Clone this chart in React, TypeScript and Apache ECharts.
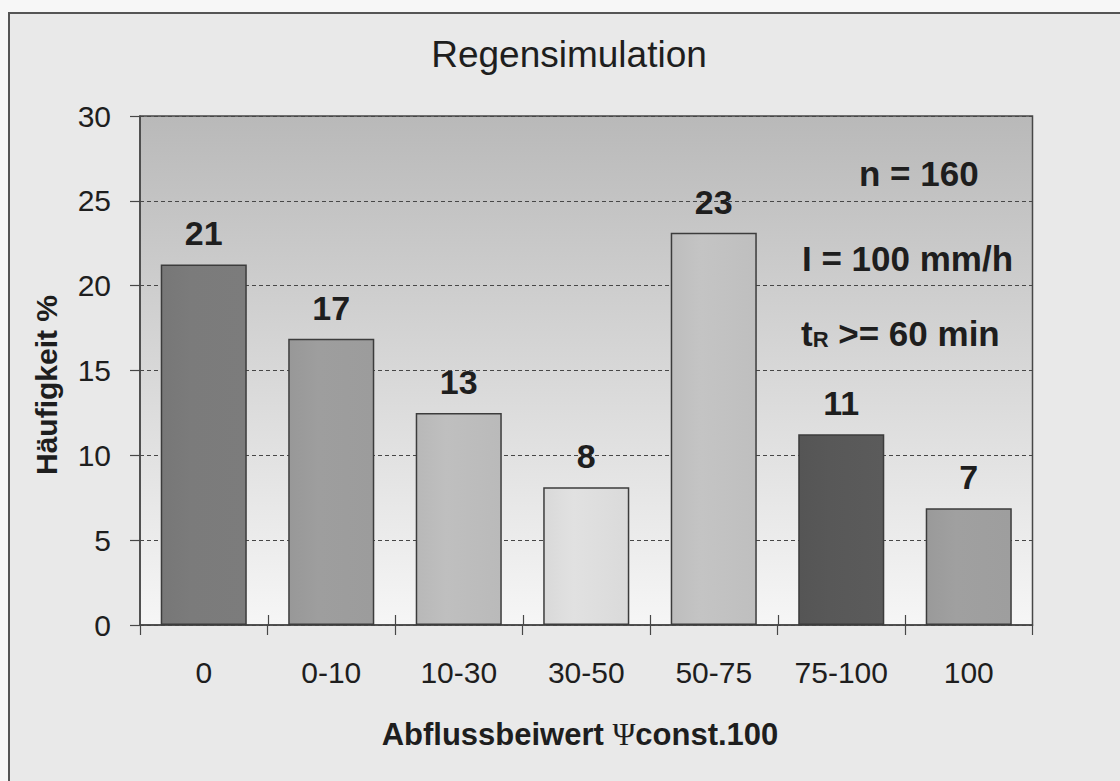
import React, { useEffect, useRef } from "react";
import * as echarts from "echarts";

const categories = ["0", "0-10", "10-30", "30-50", "50-75", "75-100", "100"];
const frequencies = [21.25, 16.875, 12.5, 8.125, 23.125, 11.25, 6.875];
const valueLabels = ["21", "17", "13", "8", "23", "11", "7"];
const barColors = ["#777777", "#989898", "#b8b8b8", "#d9d9d9", "#bdbdbd", "#555555", "#9a9a9a"];
const yMin = 0;
const yMax = 30;
const yInterval = 5;
const chartTitle = "Regensimulation";
const yAxisTitle = "Häufigkeit %";
const xAxisTitleParts = ["Abflussbeiwert ", "Ψ", "const.100"];
const noteN = "n = 160";
const noteI = "I = 100 mm/h";
const noteT = ["t", "R", " >= 60 min"];

const FONT = "'Liberation Sans', Arial, sans-serif";
const TXT = "#1e1e1e";
const LINE = "#474747";

export default function App() {
  const ref = useRef<HTMLDivElement>(null);

  useEffect(() => {
    if (!ref.current) return;
    const chart = echarts.init(ref.current, undefined, { renderer: "svg" });

    const shade = (c: string) =>
      new echarts.graphic.LinearGradient(0, 0, 1, 0, [
        { offset: 0, color: c },
        { offset: 0.35, color: echarts.color.lift(c, -0.04) },
        { offset: 1, color: echarts.color.lift(c, 0.04) },
      ]);

    const option: any = {
      animation: false,
      backgroundColor: "#f7f7f7",
      grid: {
        left: 140,
        top: 116,
        right: 87.5,
        bottom: 156,
        show: true,
        borderColor: LINE,
        borderWidth: 1.5,
        backgroundColor: new echarts.graphic.LinearGradient(0, 0, 0, 1, [
          { offset: 0, color: "#b9b9b9" },
          { offset: 1, color: "#f6f6f6" },
        ]),
      },
      xAxis: {
        type: "category",
        data: categories,
        position: "bottom",
        axisLine: { show: true, lineStyle: { color: LINE, width: 1.5 } },
        axisTick: { show: true, inside: false, length: 10, lineStyle: { color: LINE, width: 1.2 } },
        axisLabel: {
          margin: 32,
          fontSize: 30,
          fontFamily: FONT,
          color: TXT,
        },
        splitLine: { show: false },
      },
      yAxis: {
        type: "value",
        min: yMin,
        max: yMax,
        interval: yInterval,
        axisLine: { show: true, lineStyle: { color: LINE, width: 1.5 } },
        axisTick: { show: true, inside: false, length: 10, lineStyle: { color: LINE, width: 1.2 } },
        axisLabel: {
          margin: 29,
          fontSize: 30,
          fontFamily: FONT,
          color: TXT,
        },
        splitLine: {
          show: true,
          lineStyle: { color: LINE, type: [4, 3], width: 1 },
        },
      },
      series: [
        {
          type: "bar",
          barCategoryGap: "32.5%",
          z: 2,
          data: frequencies.map((v, i) => ({
            value: v,
            itemStyle: {
              color: shade(barColors[i]),
              borderColor: "#3c3c3c",
              borderWidth: 1.5,
            },
          })),
          label: {
            show: true,
            position: "top",
            distance: 14,
            formatter: (p: any) => valueLabels[p.dataIndex],
            fontSize: 34,
            fontWeight: "bold",
            fontFamily: FONT,
            color: TXT,
          },
        },
        {
          type: "custom",
          z: 5,
          silent: true,
          data: categories.map((_, i) => [i, 0]),
          renderItem: (params: any, api: any) => {
            const p = api.coord([api.value(0), 0]);
            const w = api.size([1, 0])[0];
            const x = Math.round(p[0] - w / 2) + 0.5;
            if (params.dataIndex === 0) return null;
            return {
              type: "line",
              shape: { x1: x, y1: p[1], x2: x, y2: p[1] - 10 },
              style: { stroke: LINE, lineWidth: 1.2 },
            };
          },
        },
      ],
      graphic: [
        {
          type: "rect",
          z: -100,
          silent: true,
          shape: { x: 9, y: 13, width: 1300, height: 1000 },
          style: { fill: "#e9e9e9", stroke: "#555555", lineWidth: 2 },
        },
        {
          type: "text",
          z: 100,
          x: 569,
          y: 54,
          style: {
            text: chartTitle,
            fontSize: 37,
            fontFamily: FONT,
            fill: TXT,
            align: "center",
            verticalAlign: "middle",
          },
        },
        {
          type: "text",
          z: 100,
          x: 46,
          y: 385,
          rotation: Math.PI / 2,
          style: {
            text: yAxisTitle,
            fontSize: 30,
            fontWeight: "bold",
            fontFamily: FONT,
            fill: TXT,
            align: "center",
            verticalAlign: "middle",
          },
        },
        {
          type: "text",
          z: 100,
          x: 580,
          y: 734,
          style: {
            text: `{a|${xAxisTitleParts[0]}}{p|${xAxisTitleParts[1]}}{a|${xAxisTitleParts[2]}}`,
            align: "center",
            verticalAlign: "middle",
            rich: {
              a: { fontSize: 31, fontWeight: "bold", fontFamily: FONT, fill: TXT, color: TXT },
              p: { fontSize: 31, fontFamily: "'Liberation Serif', 'DejaVu Serif', serif", fill: TXT, color: TXT },
            },
          },
        },
        {
          type: "text",
          z: 100,
          x: 859,
          y: 173,
          style: {
            text: noteN,
            fontSize: 35,
            fontWeight: "bold",
            fontFamily: FONT,
            fill: TXT,
            align: "left",
            verticalAlign: "middle",
          },
        },
        {
          type: "text",
          z: 100,
          x: 802,
          y: 258,
          style: {
            text: noteI,
            fontSize: 35,
            fontWeight: "bold",
            fontFamily: FONT,
            fill: TXT,
            align: "left",
            verticalAlign: "middle",
          },
        },
        {
          type: "text",
          z: 100,
          x: 801,
          y: 333,
          style: {
            text: `{t|${noteT[0]}}{s|${noteT[1]}}{t|${noteT[2]}}`,
            align: "left",
            verticalAlign: "middle",
            rich: {
              t: { fontSize: 35, fontWeight: "bold", fontFamily: FONT, fill: TXT, color: TXT, verticalAlign: "bottom" },
              s: { fontSize: 22, fontWeight: "bold", fontFamily: FONT, fill: TXT, color: TXT, verticalAlign: "bottom" },
            },
          },
        },
      ],
    };

    chart.setOption(option);
    return () => chart.dispose();
  }, []);

  return (
    <div
      ref={ref}
      style={{ position: "fixed", left: 0, top: 0, width: 1120, height: 781 }}
    />
  );
}
